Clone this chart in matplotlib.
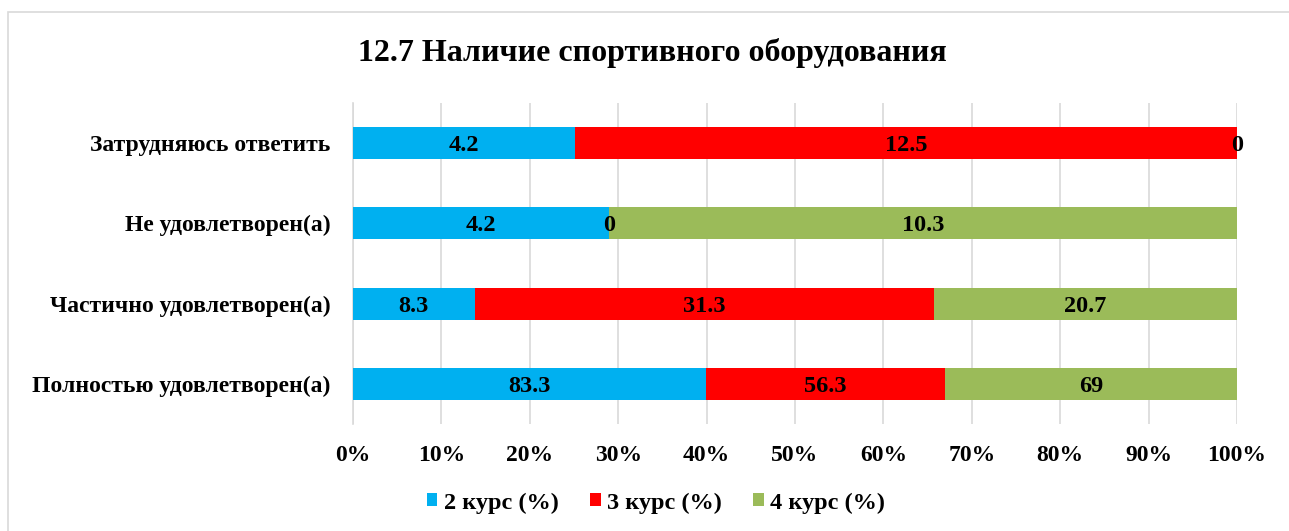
import matplotlib.pyplot as plt
import numpy as np
from matplotlib.patches import Rectangle
from matplotlib.ticker import PercentFormatter

plt.rcParams['font.family'] = ['Liberation Serif', 'DejaVu Serif']
plt.rcParams['font.weight'] = 'bold'

categories = ['Полностью удовлетворен(а)', 'Частично удовлетворен(а)',
              'Не удовлетворен(а)', 'Затрудняюсь ответить']
series = ['2 курс (%)', '3 курс (%)', '4 курс (%)']
k2 = [83.3, 8.3, 4.2, 4.2]
k3 = [56.3, 31.3, 0, 12.5]
k4 = [69, 20.7, 10.3, 0]
colors = ['#00B0F0', '#FF0000', '#9BBB59']

vals = np.array([k2, k3, k4])
shares = vals / vals.sum(axis=0) * 100

fig = plt.figure(figsize=(12.89, 5.31), dpi=100)
ax = fig.add_axes([353 / 1289, 1 - 424 / 531, (1237 - 353) / 1289, (424 - 103) / 531])

# chart frame
fig.patches.append(Rectangle((8 / 1289, -0.1), 1.2, 1 - 12 / 531 + 0.1,
                             transform=fig.transFigure, fill=False,
                             edgecolor='#d9d9d9', linewidth=1.2))

y = np.arange(len(categories))
left = np.zeros(len(categories))
for i, name in enumerate(series):
    ax.barh(y, shares[i], left=left, height=0.4, color=colors[i],
            label=name, zorder=3)
    for j in range(len(categories)):
        ax.text(left[j] + shares[i][j] / 2, y[j], '%g' % vals[i][j],
                ha='center', va='center_baseline', fontsize=17.5, fontweight='bold',
                color='black', zorder=4)
    left += shares[i]

ax.set_xlim(0, 100)
ax.set_ylim(-0.5, 3.5)
ax.set_xticks(np.arange(0, 101, 10))
ax.xaxis.set_major_formatter(PercentFormatter(decimals=0))
ax.set_yticks(y)
ax.set_yticklabels(categories)
ax.tick_params(axis='both', length=0)
ax.tick_params(axis='x', pad=15, labelsize=17)
ax.tick_params(axis='y', pad=16, labelsize=17)
for lab in ax.get_xticklabels() + ax.get_yticklabels():
    lab.set_fontweight('bold')
ax.grid(axis='x', color='#d9d9d9', linewidth=1.2, zorder=0)
for s in ['top', 'right', 'bottom']:
    ax.spines[s].set_visible(False)
ax.spines['left'].set_color('#d9d9d9')
ax.spines['left'].set_linewidth(1.2)

fig.text(652 / 1289, 1 - 53 / 531, '12.7 Наличие спортивного оборудования',
         ha='center', va='center', fontsize=23, fontweight='bold')

fig.legend(loc='center', bbox_to_anchor=(656 / 1289, 1 - 503 / 531), ncol=3,
           frameon=False, prop={'size': 17.5, 'weight': 'bold'},
           handlelength=0.45, handleheight=0.45, handletextpad=0.25, columnspacing=1.3)

fig.savefig('out.png', dpi=100)
